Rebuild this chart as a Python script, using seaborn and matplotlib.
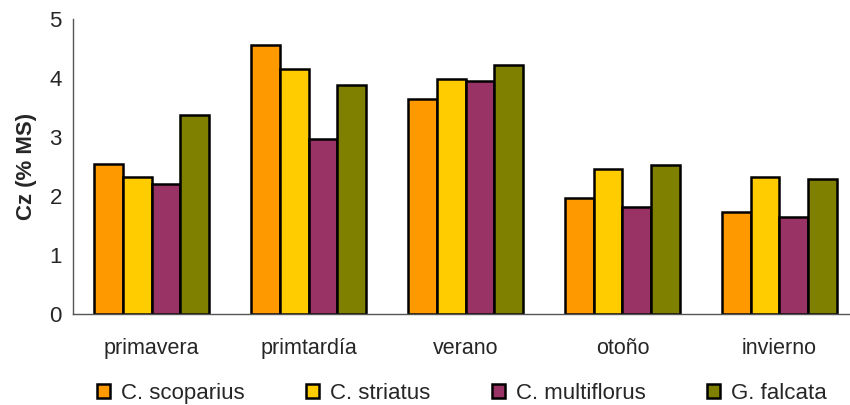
import matplotlib
matplotlib.use("Agg")
import matplotlib.pyplot as plt
import seaborn as sns
import pandas as pd
import numpy as np

# Data
seasons = ["primavera", "primtardía", "verano", "otoño", "invierno"]
species = ["C. scoparius", "C. striatus", "C. multiflorus", "G. falcata"]
scoparius = [2.54, 4.56, 3.65, 1.96, 1.73]
striatus = [2.33, 4.15, 3.98, 2.46, 2.33]
multiflorus = [2.20, 2.97, 3.95, 1.82, 1.65]
falcata = [3.38, 3.88, 4.22, 2.53, 2.29]
colors = ["#FF9900", "#FFCC00", "#993366", "#808000"]

df = pd.DataFrame({
    "season": seasons * 4,
    "species": np.repeat(species, len(seasons)),
    "cz": scoparius + striatus + multiflorus + falcata,
})

sns.set_style("white")
plt.rcParams["font.family"] = ["Liberation Sans", "DejaVu Sans"]

fig = plt.figure(figsize=(8.5, 4.05), dpi=100)
ax = fig.add_axes([0.0859, 0.2247, 0.9235, 0.7284])

sns.barplot(data=df, x="season", y="cz", hue="species", order=seasons,
            hue_order=species, palette=colors, width=0.73, ax=ax,
            edgecolor="black", linewidth=1.8, saturation=1, legend=True)

ax.set_xlim(-0.5, len(seasons) - 0.5)
ax.set_ylim(0, 5)
ax.set_yticks(range(0, 6))
ax.tick_params(axis="y", length=5, width=1, color="#555555", labelsize=16, pad=3)
ax.tick_params(axis="x", length=0, labelsize=15.5, pad=17)
ax.set_xticks(np.arange(-0.5, len(seasons) - 0.5, 1), minor=True)
ax.tick_params(axis="x", which="minor", length=5, width=1, color="#555555", direction="out")

for side in ["top", "right"]:
    ax.spines[side].set_visible(False)
for side in ["left", "bottom"]:
    ax.spines[side].set_color("#555555")
    ax.spines[side].set_linewidth(1)

ax.set_xlabel("")
ax.set_ylabel("Cz (% MS)", fontsize=16, fontweight="bold", labelpad=9)

handles, labels = ax.get_legend_handles_labels()
ax.legend(handles, labels, ncol=4, frameon=False, loc="center left",
          bbox_to_anchor=(0.03, -0.27), fontsize=16, handlelength=0.6,
          handleheight=0.6, handletextpad=0.5, columnspacing=2.75,
          borderpad=0, borderaxespad=0)

fig.savefig("out.png", dpi=100)
plt.close(fig)
